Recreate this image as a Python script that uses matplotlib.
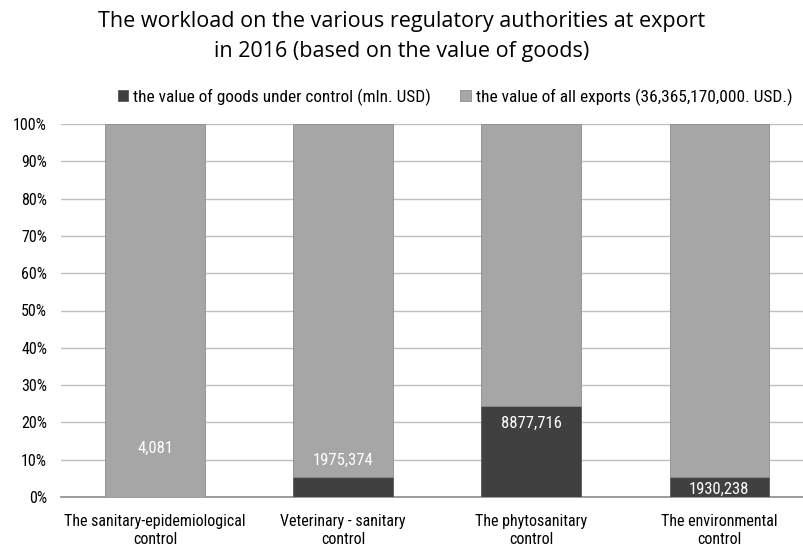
import matplotlib
matplotlib.use("Agg")
import matplotlib.pyplot as plt
from matplotlib import font_manager as fm
import numpy as np

categories = ["The sanitary-epidemiological\ncontrol", "Veterinary - sanitary\ncontrol",
              "The phytosanitary\ncontrol", "The environmental\ncontrol"]
controlled = [4.081, 1975.374, 8877.716, 1930.238]   # mln USD
total_exports = 36365.17                              # mln USD
value_labels = ["4,081", "1975,374", "8877,716", "1930,238"]
series_names = ["the value of goods under control (mln. USD)",
                "the value of all exports (36,365,170,000. USD.)"]

names = {f.name for f in fm.fontManager.ttflist}
base = "Lato"
for cand in ["Roboto Condensed", "Open Sans Condensed", "Liberation Sans Narrow", "Lato"]:
    if cand in names:
        base = cand
        break
plt.rcParams['font.family'] = [base, 'DejaVu Sans']

dark = "#404040"
light = "#a6a6a6"

pct_ctrl = np.array(controlled) / total_exports * 100
pct_rest = 100 - pct_ctrl

fig = plt.figure(figsize=(8.04, 5.47), dpi=100)
ax = fig.add_axes([61/804, 1-497/547, 743/804, 373/547])
x = np.arange(len(categories))
w = 0.53
b1 = ax.bar(x, pct_ctrl, w, color=dark, edgecolor="#595959", linewidth=0.6, zorder=3,
            label=series_names[0])
b2 = ax.bar(x, pct_rest, w, bottom=pct_ctrl, color=light, edgecolor="#8c8c8c", linewidth=0.6,
            zorder=3, label=series_names[1])

ax.set_xlim(-0.5, 3.45)
ax.set_ylim(0, 100)
ax.set_yticks(np.arange(0, 101, 10))
ax.set_yticklabels([f"{v}%" for v in range(0, 101, 10)], fontsize=11.5)
ax.set_xticks(x)
ax.set_xticklabels(categories, fontsize=11.5, linespacing=1.3)
ax.tick_params(axis='x', length=0, pad=12)
ax.tick_params(axis='y', length=0, pad=10)
ax.grid(axis='y', color="#bfbfbf", linewidth=1, zorder=0)
for s in ["top", "right", "left"]:
    ax.spines[s].set_visible(False)
ax.spines["bottom"].set_color("#8c8c8c")
ax.spines["bottom"].set_linewidth(1.2)

# label placement (Excel-like positions)
label_offsets = [13.1, 4.5, -4.6, -3.2]
for i, (p, lab, off) in enumerate(zip(pct_ctrl, value_labels, label_offsets)):
    y = off if i == 0 else p + off
    ax.text(x[i], y, lab, ha="center", va="center", color="white", fontsize=12, zorder=5)

leg = fig.legend(handles=[b1, b2], loc="center", bbox_to_anchor=(455/804, 1-97/547),
                 ncol=2, frameon=False, fontsize=12.4, handlelength=0.6, handleheight=0.6,
                 handletextpad=0.3, columnspacing=1.7)

fig.text(0.5, 1-22/547, "The workload on the various regulatory authorities at export",
         ha="center", va="center", fontsize=15.5, family=["Open Sans", "DejaVu Sans"])
fig.text(0.5, 1-52/547, "in 2016 (based on the value of goods)",
         ha="center", va="center", fontsize=15.5, family=["Open Sans", "DejaVu Sans"])

fig.savefig("out.png", dpi=100)
